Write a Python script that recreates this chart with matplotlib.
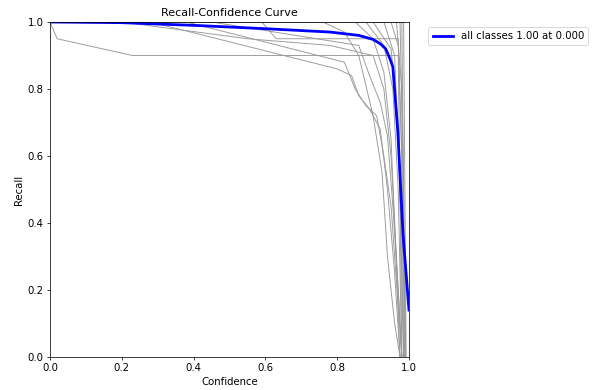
import matplotlib
matplotlib.use("Agg")
import matplotlib.pyplot as plt

# all-classes curve (blue)
all_conf = [0.0, 0.2, 0.4, 0.6, 0.78, 0.86, 0.90, 0.92, 0.935, 0.947, 0.955, 0.969, 0.983, 1.0]
all_recall = [1.0, 0.998, 0.99, 0.98, 0.97, 0.96, 0.948, 0.935, 0.92, 0.89, 0.866, 0.67, 0.37, 0.14]
all_label = "all classes 1.00 at 0.000"

# per-class curves (grey), as (confidence, recall) breakpoints
class_conf = [
    [0.0, 0.02, 0.23, 0.97, 0.975, 0.98],
    [0.0, 0.59, 0.63, 0.97, 0.98, 0.985],
    [0.0, 0.28, 0.80, 0.84, 0.86, 0.89, 0.92, 0.94, 0.96, 0.975],
    [0.0, 0.38, 0.82, 0.85, 0.88, 0.91, 0.93, 0.95, 0.97, 0.98],
    [0.0, 0.45, 0.86, 0.89, 0.92, 0.94, 0.955, 0.97, 0.98],
    [0.0, 0.20, 0.55, 0.78, 0.90, 0.93, 0.95, 0.965, 0.98],
    [0.0, 0.76, 0.82, 0.86, 0.90, 0.925, 0.94, 0.96, 0.975],
    [0.0, 0.85, 0.90, 0.93, 0.95, 0.96, 0.975],
    [0.0, 0.88, 0.93, 0.955, 0.97, 0.98],
    [0.0, 0.90, 0.95, 0.97, 0.985],
    [0.0, 0.93, 0.96, 0.975, 0.985],
    [0.0, 0.95, 0.97, 0.98, 0.988],
    [0.0, 0.965, 0.98, 0.99],
    [0.0, 0.975, 0.985, 0.99],
    [0.0, 0.98, 0.99],
    [0.0, 0.985, 0.99, 0.992],
]
class_recall = [
    [1.0, 0.95, 0.90, 0.90, 0.50, 0.0],
    [1.0, 1.0, 0.95, 0.95, 0.60, 0.0],
    [1.0, 1.0, 0.86, 0.84, 0.78, 0.74, 0.68, 0.50, 0.25, 0.0],
    [1.0, 1.0, 0.88, 0.80, 0.75, 0.72, 0.60, 0.45, 0.15, 0.0],
    [1.0, 1.0, 0.93, 0.84, 0.76, 0.66, 0.45, 0.20, 0.0],
    [1.0, 1.0, 0.95, 0.93, 0.90, 0.80, 0.60, 0.30, 0.0],
    [1.0, 1.0, 0.97, 0.90, 0.72, 0.55, 0.30, 0.10, 0.0],
    [1.0, 1.0, 0.95, 0.85, 0.65, 0.40, 0.0],
    [1.0, 1.0, 0.93, 0.80, 0.50, 0.0],
    [1.0, 1.0, 0.92, 0.70, 0.0],
    [1.0, 1.0, 0.90, 0.50, 0.0],
    [1.0, 1.0, 0.93, 0.60, 0.0],
    [1.0, 1.0, 0.80, 0.0],
    [1.0, 1.0, 0.50, 0.0],
    [1.0, 1.0, 0.0],
    [1.0, 1.0, 0.30, 0.0],
]


def plot_curve():
    plt.rcParams["font.size"] = 11
    dpi = 66.56
    fig = plt.figure(figsize=(599 / dpi, 390 / dpi), dpi=dpi)
    ax = fig.add_axes([50 / 599, 33 / 390, 359 / 599, 335 / 390])

    for cx, cy in zip(class_conf, class_recall):
        ax.plot(cx, cy, linewidth=1, color="#999999")

    ax.plot(all_conf, all_recall, linewidth=3, color="blue", label=all_label)

    ax.set_xlabel("Confidence")
    ax.set_ylabel("Recall")
    ax.set_xlim(0, 1)
    ax.set_ylim(0, 1)
    ax.legend(bbox_to_anchor=(1.04, 1), loc="upper left")
    ax.set_title("Recall-Confidence Curve", fontsize=12)
    fig.savefig("out.png", dpi=dpi)
    plt.close(fig)


if __name__ == "__main__":
    plot_curve()
